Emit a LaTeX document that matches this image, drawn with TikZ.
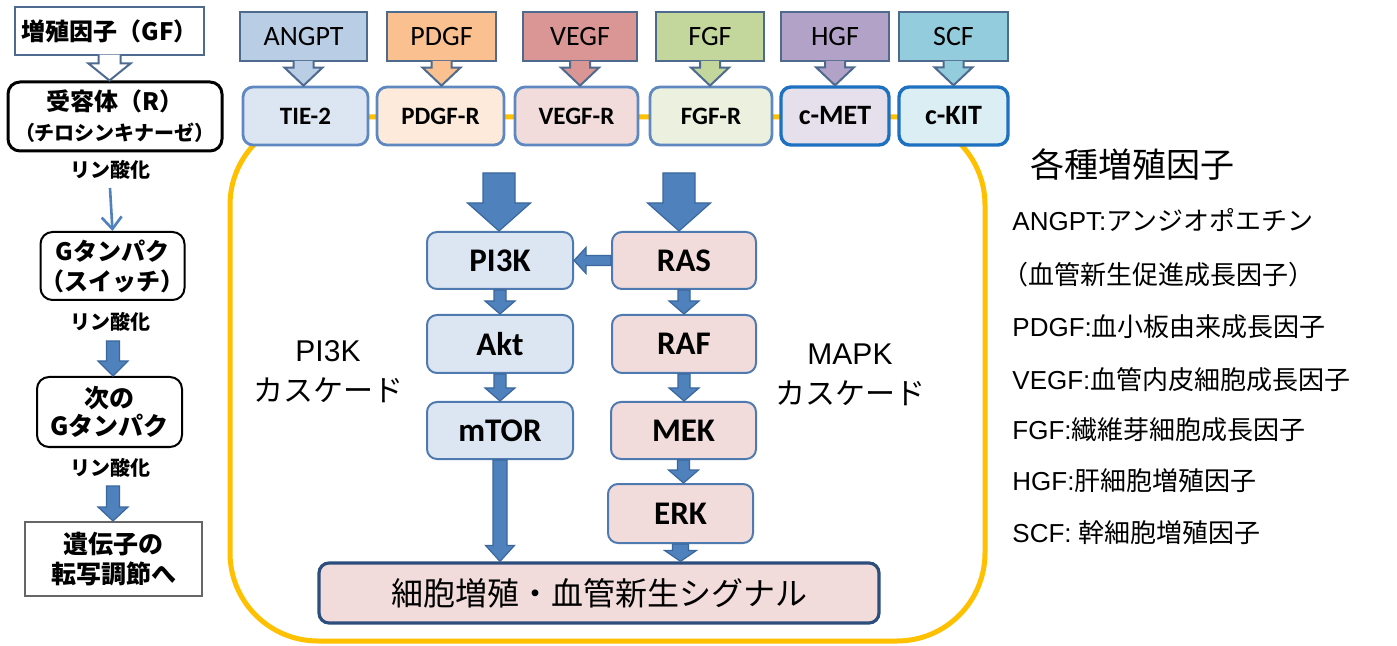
\documentclass[tikz,border=0pt]{standalone}
\usepackage{fontspec}
\setmainfont{Liberation Sans}
\newfontfamily\jpfont{Noto Sans CJK JP}
\newfontfamily\calfont{Carlito}
\usetikzlibrary{calc,arrows.meta}
\definecolor{gold}{HTML}{FFC000}
\definecolor{fbord}{HTML}{4F6A8F}
\definecolor{rbord}{HTML}{5E88BF}
\definecolor{kbord}{HTML}{1E70C0}
\definecolor{ibord}{HTML}{4F7AAF}
\definecolor{blkfill}{HTML}{4F81BD}
\definecolor{blkdraw}{HTML}{3A679E}
\definecolor{finbord}{HTML}{2C4E7C}
\definecolor{cANGPT}{HTML}{B9CDE5}
\definecolor{cPDGF}{HTML}{FAC090}
\definecolor{cVEGF}{HTML}{D99694}
\definecolor{cFGF}{HTML}{C3D69B}
\definecolor{cHGF}{HTML}{B3A2C7}
\definecolor{cSCF}{HTML}{93CDDD}
\definecolor{rTIE}{HTML}{DCE6F2}
\definecolor{rPDGF}{HTML}{FDEADA}
\definecolor{rVEGF}{HTML}{F2DCDB}
\definecolor{rFGF}{HTML}{EBF1DE}
\definecolor{rMET}{HTML}{E6E0EC}
\definecolor{rKIT}{HTML}{DBEEF4}
\definecolor{pibox}{HTML}{DCE6F2}
\definecolor{mapbox}{HTML}{F2DCDB}
\tikzset{
  fbox/.style={draw=fbord, line width=1pt, inner sep=0pt, font=\calfont\fontsize{14}{16}\selectfont},
  rbox/.style={draw=rbord, line width=1.4pt, rounded corners=5pt, inner sep=0pt, font=\calfont\bfseries\fontsize{12.5}{14}\selectfont},
  kbox/.style={draw=kbord, line width=1.7pt, rounded corners=5pt, inner sep=0pt, font=\calfont\bfseries\fontsize{14}{16}\selectfont},
  ibox/.style={draw=ibord, line width=1pt, rounded corners=5pt, inner sep=0pt, font=\calfont\bfseries\fontsize{16.5}{18}\selectfont},
  finbox/.style={draw=finbord, line width=1.6pt, rounded corners=5pt, inner sep=0pt, fill=mapbox, font=\jpfont\fontsize{16}{18}\selectfont},
  lbox/.style={draw=black, line width=1pt, rounded corners=6pt, inner sep=0pt, align=center, font=\jpfont\bfseries\fontsize{12}{15}\selectfont},
  blk/.style={fill=blkfill, draw=blkdraw, line width=0.6pt, line join=miter},
  callarr/.style={draw=fbord, line width=1pt, line join=miter},
  goldline/.style={draw=gold, line width=2.5pt, rounded corners=44pt},
  thinarr/.style={draw=blkfill, line width=1.3pt, -{Straight Barb[length=6pt,width=10pt]}},
  phos/.style={font=\jpfont\bfseries\fontsize{10}{12}\selectfont, inner sep=0pt},
  casc/.style={align=center, inner sep=0pt, font=\fontsize{15}{20}\selectfont},
  leg/.style={anchor=west, inner sep=0pt, font=\fontsize{13}{15}\selectfont},
}
\newcommand\bx[7]{%
  \pgfmathsetmacro\bw{(#4-#2)*0.5}\pgfmathsetmacro\bh{(#5-#3)*0.5}%
  \node[#6, minimum width=\bw pt, minimum height=\bh pt] (#1) at ({(#2+#4)/2},{(#3+#5)/2}) {#7};}
% vertical block arrow: from, to, shaft half, head half, head length
\newcommand\vblk[5]{%
  \draw[blk] let \p1=(#1), \p2=(#2) in
  (\x1-#3,\y1) -- (\x1-#3,\y2+#5) -- (\x1-#4,\y2+#5) -- (\x1,\y2) -- (\x1+#4,\y2+#5) -- (\x1+#3,\y2+#5) -- (\x1+#3,\y1) -- cycle;}
% horizontal block arrow pointing left
\newcommand\hblk[5]{%
  \draw[blk] let \p1=(#1), \p2=(#2) in
  (\x1,\y1+#3) -- (\x2+#5,\y1+#3) -- (\x2+#5,\y1+#4) -- (\x2,\y1) -- (\x2+#5,\y1-#4) -- (\x2+#5,\y1-#3) -- (\x1,\y1-#3) -- cycle;}
% callout arrow: fill, from, to, shaft half, head half, head length
\newcommand\callout[6]{%
  \filldraw[callarr, fill=#1] let \p1=(#2), \p2=(#3) in
  (\x1-#4,\y1+0.6pt) -- (\x1-#4,\y2+#6) -- (\x1-#5,\y2+#6) -- (\x1,\y2) -- (\x1+#5,\y2+#6) -- (\x1+#4,\y2+#6) -- (\x1+#4,\y1+0.6pt);}
\begin{document}
\begin{tikzpicture}[x=0.5pt,y=-0.5pt]
\useasboundingbox (0,0) rectangle (1397,646);
\fill[white] (0,0) rectangle (1397,646);

% ---------- left column ----------
\bx{gf}{15}{7}{204}{55}{draw=fbord, line width=0.9pt, inner sep=0pt, font=\jpfont\bfseries\fontsize{12}{14}\selectfont}{増殖因子（GF）}
\bx{rec}{8}{82}{222}{151}{lbox, line width=1.5pt}{受容体（R）\\{\fontsize{10}{12}\selectfont （チロシンキナーゼ）}}
\callout{white}{gf.south}{rec.north}{5.5pt}{10.5pt}{8.5pt}
\node[phos] (p1) at (110,170) {リン酸化};
\bx{gp}{41}{232}{184}{300}{lbox}{Gタンパク\\（スイッチ）}
\coordinate (t1) at (110,188);
\draw[thinarr] (t1) -- (gp.north);
\node[phos] (p2) at (110,322) {リン酸化};
\bx{ngp}{37}{377}{182}{447}{lbox, font=\jpfont\bfseries\fontsize{12.5}{14}\selectfont}{次の\\Gタンパク}
\coordinate (a1) at (113,341);
\vblk{a1}{ngp.north}{3.25pt}{7.5pt}{7.5pt}
\node[phos] (p3) at (110,468) {リン酸化};
\bx{gene}{25}{522}{202}{596}{draw=black!60, line width=1pt, inner sep=0pt, align=center, font=\jpfont\bfseries\fontsize{12.5}{15}\selectfont}{遺伝子の\\転写調節へ}
\coordinate (a2) at (113,486);
\vblk{a2}{gene.north}{3.25pt}{7.5pt}{7pt}

% ---------- gold frame ----------
\draw[goldline] (230,117) rectangle (985,641);

% ---------- growth factors ----------
\bx{fANGPT}{240}{12}{367}{61}{fbox, fill=cANGPT}{ANGPT}
\bx{fPDGF}{387}{12}{496}{61}{fbox, fill=cPDGF}{PDGF}
\bx{fVEGF}{523}{12}{637}{61}{fbox, fill=cVEGF}{VEGF}
\bx{fFGF}{656}{12}{764}{61}{fbox, fill=cFGF}{FGF}
\bx{fHGF}{781}{12}{889}{61}{fbox, fill=cHGF}{HGF}
\bx{fSCF}{899}{12}{1008}{61}{fbox, fill=cSCF}{SCF}

% ---------- receptors ----------
\bx{rTIE}{243}{87}{368}{145}{rbox, fill=rTIE}{TIE-2}
\bx{rPDGF}{377}{87}{504}{145}{rbox, fill=rPDGF}{PDGF-R}
\bx{rVEGF}{515}{87}{638}{145}{rbox, fill=rVEGF}{VEGF-R}
\bx{rFGF}{650}{87}{772}{145}{rbox, fill=rFGF}{FGF-R}
\bx{rMET}{781}{87}{889}{145}{kbox, fill=rMET}{c-MET}
\bx{rKIT}{899}{87}{1008}{145}{kbox, fill=rKIT}{c-KIT}

\callout{cANGPT}{fANGPT.south}{rTIE.north}{5pt}{9.5pt}{9pt}
\callout{cPDGF}{fPDGF.south}{rPDGF.north}{5pt}{9.5pt}{9pt}
\callout{cVEGF}{fVEGF.south}{rVEGF.north}{5pt}{9.5pt}{9pt}
\callout{cFGF}{fFGF.south}{rFGF.north}{5pt}{9.5pt}{9pt}
\callout{cHGF}{fHGF.south}{rMET.north}{5pt}{9.5pt}{9pt}
\callout{cSCF}{fSCF.south}{rKIT.north}{5pt}{9.5pt}{9pt}

% ---------- cascades ----------
\bx{pi3k}{427}{232}{573}{289}{ibox, fill=pibox}{PI3K}
\bx{ras}{612}{232}{756}{289}{ibox, fill=mapbox}{RAS}
\bx{akt}{427}{315}{573}{373}{ibox, fill=pibox}{Akt}
\bx{raf}{612}{315}{756}{373}{ibox, fill=mapbox}{RAF}
\bx{mtor}{427}{402}{573}{459}{ibox, fill=pibox}{mTOR}
\bx{mek}{611}{402}{756}{459}{ibox, fill=mapbox}{MEK}
\bx{erk}{608}{484}{753}{543}{ibox, fill=mapbox}{ERK}
\bx{fin}{319}{563}{879}{623}{finbox}{細胞増殖・血管新生シグナル}

\coordinate (bA) at (499,173);
\coordinate (bB) at (679,173);
\vblk{bA}{pi3k.north}{8pt}{15.75pt}{14pt}
\vblk{bB}{ras.north}{8pt}{15.75pt}{14pt}
\hblk{ras.west}{pi3k.east}{2.5pt}{6.5pt}{6pt}
\vblk{pi3k.south}{akt.north}{3pt}{7.5pt}{6.5pt}
\vblk{akt.south}{mtor.north}{3pt}{7.5pt}{6.5pt}
\vblk{ras.south}{raf.north}{3pt}{7.5pt}{6.5pt}
\vblk{raf.south}{mek.north}{3pt}{7.5pt}{6.5pt}
\vblk{mek.south}{erk.north}{3pt}{7.5pt}{6.5pt}
\vblk{mtor.south}{fin.north}{3.5pt}{7.25pt}{8pt}
\vblk{erk.south}{fin.north}{4pt}{8pt}{5.5pt}

\node[casc] (lpi) at (328,372) {PI3K\\{\jpfont カスケード}};
\node[casc] (lmap) at (850,375) {MAPK\\{\jpfont カスケード}};

% ---------- legend ----------
\node[anchor=west, inner sep=0pt, font=\jpfont\fontsize{17}{19}\selectfont] (lt) at (1030,165) {各種増殖因子};
\node[leg] (l1) at (1012,220) {ANGPT:{\jpfont アンジオポエチン}};
\node[leg] (l2) at (1002,275) {\jpfont （血管新生促進成長因子）};
\node[leg] (l3) at (1012,327) {PDGF:{\jpfont 血小板由来成長因子}};
\node[leg] (l4) at (1012,380) {VEGF:{\jpfont 血管内皮細胞成長因子}};
\node[leg] (l5) at (1012,430) {FGF:{\jpfont 繊維芽細胞成長因子}};
\node[leg] (l6) at (1012,481) {HGF:{\jpfont 肝細胞増殖因子}};
\node[leg] (l7) at (1012,533) {SCF: {\jpfont 幹細胞増殖因子}};
\end{tikzpicture}
\end{document}
